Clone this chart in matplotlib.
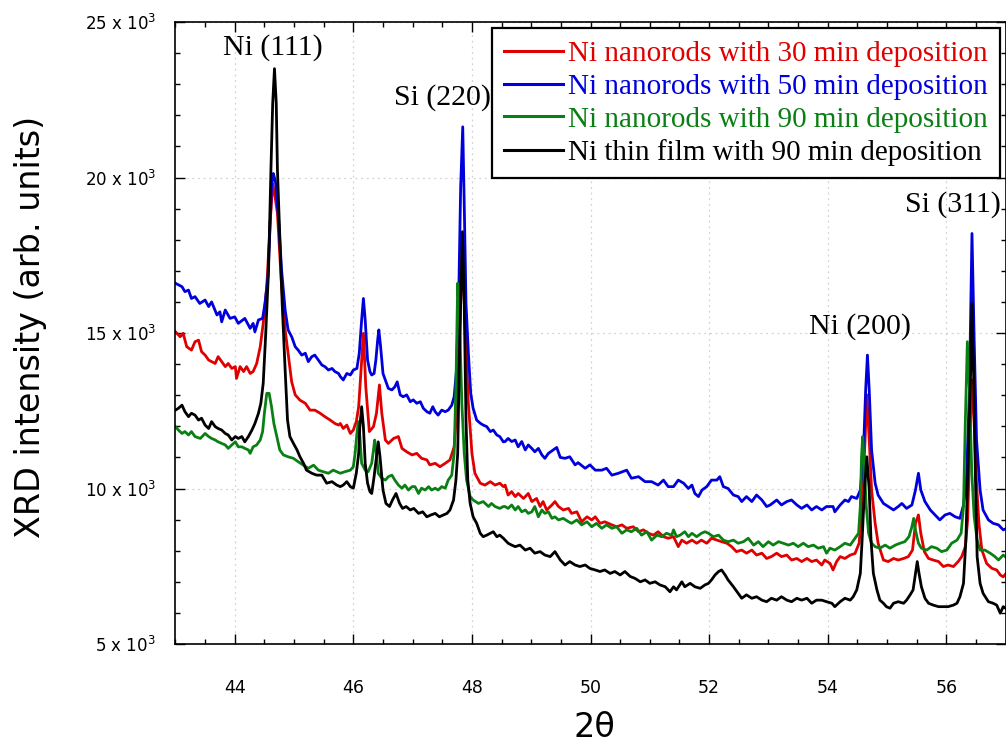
import matplotlib
matplotlib.use("Agg")
import matplotlib.pyplot as plt
from matplotlib.ticker import MultipleLocator, FuncFormatter

# ---- XRD scans (2theta in degrees, intensity in counts) ----
tth_30 = [43.00, 43.08, 43.13, 43.19, 43.27, 43.33, 43.39, 43.44, 43.50, 43.56, 43.61, 43.67, 43.72, 43.78, 43.84,
          43.89, 43.95, 44.01, 44.03, 44.09, 44.15, 44.20, 44.26, 44.31, 44.37, 44.43, 44.48, 44.54, 44.60, 44.64,
          44.68, 44.72, 44.79, 44.85, 44.90, 44.96, 45.02, 45.10, 45.19, 45.27, 45.35, 45.44, 45.52, 45.61, 45.69,
          45.75, 45.78, 45.83, 45.89, 45.95, 46.00, 46.05, 46.09, 46.13, 46.17, 46.21, 46.27, 46.34, 46.39, 46.44,
          46.48, 46.54, 46.59, 46.68, 46.76, 46.82, 46.90, 46.99, 47.07, 47.15, 47.24, 47.29, 47.38, 47.46, 47.55,
          47.63, 47.70, 47.75, 47.80, 47.84, 47.88, 47.94, 48.00, 48.05, 48.14, 48.22, 48.31, 48.39, 48.47, 48.53,
          48.56, 48.61, 48.67, 48.73, 48.78, 48.87, 48.95, 49.01, 49.09, 49.15, 49.20, 49.26, 49.35, 49.40, 49.46,
          49.54, 49.63, 49.68, 49.77, 49.85, 49.94, 50.02, 50.08, 50.16, 50.24, 50.36, 50.44, 50.53, 50.61, 50.72,
          50.81, 50.89, 50.98, 51.06, 51.14, 51.23, 51.31, 51.40, 51.48, 51.54, 51.62, 51.71, 51.79, 51.87, 51.96,
          52.04, 52.13, 52.21, 52.30, 52.38, 52.46, 52.55, 52.63, 52.72, 52.80, 52.89, 52.97, 53.05, 53.14, 53.22,
          53.31, 53.39, 53.48, 53.56, 53.65, 53.73, 53.81, 53.90, 53.95, 54.04, 54.09, 54.15, 54.21, 54.29, 54.38,
          54.46, 54.53, 54.58, 54.63, 54.66, 54.70, 54.74, 54.80, 54.85, 54.94, 55.02, 55.11, 55.19, 55.28, 55.36,
          55.43, 55.48, 55.53, 55.57, 55.63, 55.70, 55.78, 55.87, 55.95, 56.03, 56.12, 56.20, 56.26, 56.32, 56.36,
          56.39, 56.43, 56.47, 56.51, 56.55, 56.60, 56.68, 56.77, 56.85, 56.91, 56.96, 57.00]
int_30 = [15040, 14880, 14990, 14560, 14450, 14720, 14770, 14400, 14290, 14130, 14080, 14020, 14240, 14080, 13920,
          14020, 13860, 13920, 13540, 13920, 13760, 13920, 13700, 13760, 14020, 14560, 15310, 16490, 18630, 19800,
          19380, 18850, 16490, 15100, 14350, 13430, 13010, 12840, 12740, 12520, 12520, 12420, 12310, 12200, 12090,
          12040, 12090, 11930, 12040, 11770, 11880, 12150, 12630, 13810, 14990, 13270, 11830, 11990, 12420, 13330,
          12420, 11560, 11450, 11610, 11670, 11290, 11180, 11080, 11130, 10970, 10920, 10760, 10810, 10700, 10810,
          10920, 11340, 12630, 15420, 18000, 15420, 12740, 11130, 10490, 10170, 10110, 10220, 10110, 10170, 10060,
          10110, 9790, 9900, 9740, 9840, 9680, 9840, 9580, 9680, 9420, 9580, 9310, 9470, 9580, 9420,
          9310, 9360, 9200, 9250, 8930, 9090, 8990, 9090, 8880, 8930, 8830, 8770, 8830, 8720, 8770,
          8610, 8670, 8560, 8500, 8610, 8450, 8400, 8450, 8130, 8340, 8240, 8340, 8240, 8340, 8240,
          8400, 8340, 8290, 8240, 8130, 7970, 8020, 7920, 8020, 7860, 7920, 7750, 7810, 7920, 7810,
          7860, 7700, 7750, 7650, 7750, 7650, 7700, 7540, 7700, 7590, 7380, 7650, 7810, 7750, 7860,
          7910, 8240, 9420, 11560, 13010, 11560, 9950, 8880, 8240, 7700, 7650, 7750, 7700, 7750, 7810,
          8020, 8880, 9150, 8560, 7970, 7750, 7700, 7650, 7490, 7540, 7490, 7650, 7810, 8130, 8990,
          11020, 13500, 12090, 10170, 8880, 8020, 7590, 7430, 7380, 7220, 7160, 7250]

tth_50 = [43.00, 43.11, 43.16, 43.22, 43.27, 43.33, 43.41, 43.50, 43.56, 43.61, 43.70, 43.75, 43.78, 43.84, 43.92,
          44.00, 44.06, 44.17, 44.26, 44.31, 44.34, 44.40, 44.47, 44.51, 44.56, 44.60, 44.62, 44.65, 44.68, 44.69,
          44.74, 44.79, 44.85, 44.90, 44.96, 45.02, 45.07, 45.13, 45.19, 45.24, 45.30, 45.35, 45.41, 45.47, 45.52,
          45.58, 45.64, 45.69, 45.75, 45.78, 45.83, 45.89, 45.95, 46.00, 46.06, 46.10, 46.14, 46.17, 46.20, 46.24,
          46.28, 46.31, 46.35, 46.38, 46.41, 46.43, 46.46, 46.50, 46.54, 46.59, 46.65, 46.70, 46.74, 46.79, 46.84,
          46.90, 46.96, 47.01, 47.07, 47.13, 47.18, 47.24, 47.29, 47.34, 47.38, 47.43, 47.49, 47.55, 47.60, 47.66,
          47.70, 47.74, 47.78, 47.81, 47.845, 47.87, 47.90, 47.94, 47.98, 48.02, 48.08, 48.14, 48.19, 48.25, 48.31,
          48.36, 48.42, 48.47, 48.53, 48.56, 48.61, 48.67, 48.73, 48.78, 48.84, 48.90, 48.95, 49.01, 49.06, 49.12,
          49.18, 49.23, 49.29, 49.43, 49.49, 49.57, 49.65, 49.74, 49.79, 49.91, 49.99, 50.08, 50.19, 50.27, 50.36,
          50.47, 50.61, 50.69, 50.81, 50.92, 51.03, 51.14, 51.23, 51.31, 51.40, 51.48, 51.57, 51.65, 51.71, 51.76,
          51.82, 51.88, 51.96, 52.04, 52.13, 52.18, 52.24, 52.32, 52.41, 52.49, 52.55, 52.63, 52.72, 52.80, 52.89,
          52.97, 53.03, 53.14, 53.22, 53.31, 53.39, 53.48, 53.56, 53.65, 53.73, 53.81, 53.90, 53.98, 54.09, 54.12,
          54.21, 54.29, 54.35, 54.40, 54.49, 54.55, 54.60, 54.64, 54.67, 54.70, 54.74, 54.80, 54.85, 54.94, 55.02,
          55.11, 55.19, 55.25, 55.33, 55.42, 55.48, 55.53, 55.57, 55.64, 55.73, 55.81, 55.89, 55.98, 56.06, 56.15,
          56.23, 56.29, 56.34, 56.39, 56.433, 56.47, 56.51, 56.57, 56.62, 56.71, 56.79, 56.88, 56.96, 57.00]
int_50 = [16600, 16490, 16330, 16380, 16110, 16170, 15950, 16060, 15850, 16000, 15580, 15680, 15360, 15740, 15470,
          15520, 15310, 15470, 15150, 15310, 15040, 15420, 15470, 15950, 16810, 18630, 19700, 20130, 19920, 19810,
          18630, 17020, 15740, 15100, 14880, 14560, 14450, 14290, 14350, 14080, 14240, 14290, 14130, 13970, 13920,
          13810, 13860, 13760, 13700, 13600, 13490, 13700, 13650, 13810, 13860, 14350, 15420, 16110, 15420, 14130,
          13760, 13650, 13700, 14130, 14770, 15100, 14560, 13700, 13490, 13220, 13170, 13270, 13430, 13010, 12950,
          13010, 12790, 12850, 12740, 12790, 12580, 12470, 12420, 12630, 12470, 12360, 12520, 12470, 12520, 12680,
          12950, 13810, 16490, 19700, 21630, 19170, 15950, 14350, 13060, 12580, 12200, 12100, 12040, 11990, 11830,
          11880, 11720, 11670, 11500, 11510, 11610, 11510, 11560, 11340, 11510, 11240, 11400, 11290, 11180, 11290,
          11080, 10970, 11130, 11320, 11000, 10970, 11020, 10760, 10830, 10650, 10760, 10590, 10590, 10650, 10430,
          10490, 10590, 10330, 10380, 10220, 10220, 10110, 10270, 10060, 10060, 10270, 10170, 10000, 10110, 9840,
          9740, 9950, 10060, 10270, 10270, 10380, 10060, 10000, 9790, 9740, 9580, 9740, 9580, 9790, 9630,
          9420, 9470, 9630, 9470, 9580, 9630, 9470, 9360, 9470, 9310, 9420, 9310, 9420, 9420, 9250,
          9470, 9630, 9580, 9740, 9680, 9950, 11020, 13170, 14290, 13170, 11240, 10170, 9790, 9520, 9420,
          9310, 9420, 9520, 9360, 9470, 9950, 10490, 9950, 9580, 9310, 9150, 8990, 9150, 9200, 9090,
          9040, 9470, 10270, 13170, 18200, 14770, 11560, 9950, 9310, 8990, 8880, 8830, 8670, 8700]

tth_90 = [43.00, 43.05, 43.11, 43.16, 43.22, 43.27, 43.33, 43.42, 43.50, 43.56, 43.61, 43.67, 43.72, 43.78, 43.84,
          43.89, 43.95, 44.01, 44.06, 44.12, 44.17, 44.23, 44.26, 44.31, 44.37, 44.43, 44.47, 44.50, 44.54, 44.58,
          44.62, 44.66, 44.71, 44.76, 44.82, 44.90, 44.99, 45.07, 45.16, 45.24, 45.33, 45.41, 45.49, 45.58, 45.66,
          45.78, 45.86, 45.95, 46.00, 46.03, 46.06, 46.085, 46.11, 46.14, 46.20, 46.25, 46.31, 46.34, 46.36, 46.39,
          46.42, 46.48, 46.54, 46.59, 46.65, 46.70, 46.76, 46.82, 46.87, 46.93, 46.99, 47.04, 47.10, 47.15, 47.21,
          47.27, 47.32, 47.38, 47.43, 47.49, 47.55, 47.60, 47.66, 47.70, 47.73, 47.76, 47.79, 47.83, 47.87, 47.91,
          47.97, 48.02, 48.11, 48.19, 48.28, 48.33, 48.39, 48.47, 48.53, 48.56, 48.61, 48.67, 48.73, 48.78, 48.84,
          48.90, 48.95, 49.01, 49.06, 49.12, 49.18, 49.23, 49.29, 49.35, 49.40, 49.46, 49.54, 49.63, 49.68, 49.77,
          49.85, 49.94, 50.02, 50.10, 50.19, 50.27, 50.36, 50.44, 50.53, 50.61, 50.69, 50.78, 50.86, 50.95, 51.03,
          51.12, 51.20, 51.28, 51.37, 51.40, 51.45, 51.51, 51.59, 51.65, 51.71, 51.79, 51.87, 51.93, 51.99, 52.07,
          52.16, 52.24, 52.32, 52.41, 52.49, 52.58, 52.66, 52.75, 52.83, 52.91, 53.00, 53.08, 53.17, 53.25, 53.34,
          53.42, 53.50, 53.59, 53.67, 53.76, 53.84, 53.93, 53.98, 54.04, 54.12, 54.21, 54.29, 54.38, 54.46, 54.52,
          54.55, 54.57, 54.59, 54.61, 54.65, 54.69, 54.74, 54.80, 54.88, 54.97, 55.05, 55.14, 55.22, 55.30, 55.37,
          55.42, 55.45, 55.48, 55.53, 55.58, 55.67, 55.75, 55.84, 55.92, 56.01, 56.09, 56.18, 56.25, 56.29, 56.32,
          56.355, 56.39, 56.43, 56.47, 56.52, 56.57, 56.65, 56.74, 56.82, 56.88, 56.96, 57.00]
int_90 = [11990, 11880, 11770, 11830, 11720, 11830, 11670, 11610, 11770, 11670, 11610, 11560, 11500, 11450, 11400,
          11290, 11400, 11500, 11340, 11340, 11290, 11240, 11130, 11340, 11400, 11560, 11830, 12420, 13060, 13060,
          12630, 12090, 11670, 11240, 11080, 11020, 10970, 10860, 10750, 10650, 10750, 10590, 10540, 10490, 10590,
          10490, 10540, 10590, 10700, 11130, 11770, 12150, 11670, 10810, 10590, 10540, 10810, 11240, 11560, 11130,
          10490, 10330, 10270, 10380, 10430, 10270, 10110, 10010, 10110, 9950, 10060, 10060, 9840, 10010, 9950,
          10060, 9950, 10010, 9950, 10060, 10010, 10270, 10430, 11130, 13270, 16600, 15420, 12740, 11130, 10270,
          9740, 9630, 9520, 9580, 9420, 9520, 9420, 9360, 9420, 9420, 9360, 9470, 9310, 9420, 9250,
          9310, 9200, 9250, 9420, 9090, 9310, 9200, 9250, 9040, 9090, 8990, 9040, 8930, 8880, 8990,
          8830, 8930, 8770, 8880, 8720, 8830, 8720, 8770, 8560, 8670, 8610, 8720, 8500, 8610, 8340,
          8500, 8450, 8560, 8500, 8670, 8450, 8500, 8610, 8450, 8560, 8450, 8560, 8610, 8560, 8450,
          8500, 8340, 8290, 8340, 8240, 8290, 8400, 8180, 8290, 8130, 8290, 8180, 8290, 8240, 8180,
          8240, 8130, 8240, 8130, 8180, 8080, 8130, 7920, 8080, 8020, 8130, 8240, 8180, 8400, 8560,
          9420, 11020, 11670, 11020, 9420, 8560, 8240, 8130, 8080, 8180, 8080, 8180, 8240, 8290, 8450,
          8770, 9040, 8660, 8240, 8080, 8020, 8130, 8080, 7970, 8020, 8240, 8340, 8560, 9420, 12090,
          14720, 13170, 10490, 9090, 8340, 8020, 8020, 7920, 7810, 7700, 7860, 7800]

tth_film = [43.00, 43.05, 43.11, 43.16, 43.22, 43.27, 43.33, 43.39, 43.44, 43.50, 43.56, 43.61, 43.67, 43.72, 43.78,
            43.84, 43.89, 43.95, 44.01, 44.06, 44.12, 44.17, 44.23, 44.29, 44.34, 44.40, 44.44, 44.48, 44.52, 44.57,
            44.61, 44.64, 44.67, 44.70, 44.72, 44.76, 44.80, 44.85, 44.89, 44.93, 44.99, 45.05, 45.10, 45.16, 45.21,
            45.30, 45.38, 45.47, 45.55, 45.64, 45.72, 45.78, 45.83, 45.89, 45.95, 46.00, 46.05, 46.09, 46.11, 46.14,
            46.17, 46.20, 46.24, 46.28, 46.31, 46.35, 46.39, 46.42, 46.45, 46.50, 46.55, 46.61, 46.66, 46.72, 46.78,
            46.83, 46.89, 46.96, 47.02, 47.10, 47.17, 47.24, 47.31, 47.38, 47.45, 47.52, 47.58, 47.63, 47.69, 47.73,
            47.76, 47.78, 47.81, 47.84, 47.87, 47.90, 47.93, 47.97, 48.02, 48.08, 48.14, 48.19, 48.25, 48.31, 48.36,
            48.42, 48.47, 48.53, 48.56, 48.61, 48.67, 48.73, 48.81, 48.90, 48.98, 49.06, 49.15, 49.23, 49.32, 49.40,
            49.49, 49.57, 49.65, 49.74, 49.82, 49.91, 49.99, 50.08, 50.16, 50.24, 50.33, 50.41, 50.50, 50.58, 50.67,
            50.75, 50.84, 50.92, 51.00, 51.09, 51.17, 51.26, 51.34, 51.40, 51.45, 51.54, 51.59, 51.68, 51.76, 51.85,
            51.93, 51.99, 52.04, 52.10, 52.16, 52.21, 52.27, 52.32, 52.41, 52.49, 52.55, 52.63, 52.72, 52.80, 52.89,
            52.97, 53.05, 53.14, 53.22, 53.31, 53.39, 53.48, 53.56, 53.65, 53.73, 53.81, 53.90, 53.98, 54.07, 54.12,
            54.21, 54.29, 54.38, 54.43, 54.49, 54.55, 54.58, 54.62, 54.66, 54.70, 54.73, 54.77, 54.83, 54.88, 54.94,
            54.99, 55.05, 55.11, 55.19, 55.28, 55.33, 55.39, 55.44, 55.48, 55.51, 55.54, 55.58, 55.64, 55.70, 55.78,
            55.87, 55.95, 56.03, 56.12, 56.18, 56.23, 56.29, 56.33, 56.37, 56.41, 56.433, 56.46, 56.49, 56.52, 56.57,
            56.62, 56.71, 56.79, 56.85, 56.91, 56.96, 57.00]
int_film = [12520, 12580, 12680, 12470, 12310, 12420, 12360, 12200, 12260, 12040, 11930, 12150, 11990, 11930, 11880,
            11770, 11720, 11560, 11670, 11610, 11670, 11500, 11670, 11880, 12090, 12420, 12740, 13380, 14880, 17020,
            20240, 22380, 23500, 22380, 20240, 18100, 15950, 13810, 12200, 11670, 11450, 11240, 11020, 10810, 10590,
            10490, 10430, 10430, 10170, 10220, 10110, 10060, 10110, 10220, 10060, 10010, 10490, 11130, 11990, 12630,
            11990, 10810, 10170, 9900, 9840, 10380, 11020, 11500, 11020, 9950, 9520, 9420, 9630, 9840, 9520,
            9360, 9420, 9310, 9360, 9200, 9250, 9090, 9150, 9200, 9090, 9150, 9200, 9310, 9630, 10270,
            11130, 13270, 15950, 18260, 15950, 12200, 10270, 9520, 9090, 8880, 8560, 8450, 8500, 8560, 8610,
            8450, 8500, 8400, 8340, 8240, 8180, 8130, 8180, 8020, 8080, 7920, 7970, 7860, 7810, 7970,
            7700, 7540, 7650, 7540, 7490, 7540, 7430, 7380, 7330, 7380, 7270, 7330, 7220, 7330, 7170,
            7110, 7000, 7060, 6950, 7000, 6900, 6840, 6680, 6840, 6740, 7000, 6840, 6950, 6840, 6790,
            6900, 6950, 7060, 7220, 7330, 7380, 7220, 7060, 6840, 6630, 6470, 6580, 6470, 6520, 6410,
            6360, 6470, 6410, 6520, 6410, 6360, 6470, 6410, 6470, 6310, 6410, 6410, 6360, 6310, 6200,
            6360, 6470, 6410, 6520, 6740, 7270, 8340, 9950, 11020, 9950, 8340, 7270, 6740, 6410, 6310,
            6200, 6150, 6310, 6360, 6310, 6410, 6580, 6740, 7270, 7650, 7270, 6840, 6470, 6310, 6250,
            6200, 6200, 6200, 6250, 6310, 6520, 6950, 8340, 11020, 13700, 15950, 13700, 10490, 7810, 6950,
            6630, 6360, 6310, 6250, 5990, 6200, 6150]

series_labels = ["Ni nanorods with 30 min deposition",
                 "Ni nanorods with 50 min deposition",
                 "Ni nanorods with 90 min deposition",
                 "Ni thin film with 90 min deposition"]
series_colors = ["#e00000", "#0000dc", "#0a8014", "#000000"]

# reflection labels: text, 2theta, intensity
peak_names = ["Ni (111)", "Si (220)", "Ni (200)", "Si (311)"]
peak_tth = [44.65, 47.51, 54.54, 56.11]
peak_int = [24190, 22570, 15220, 19130]

x_ticks = [44, 46, 48, 50, 52, 54, 56]
y_ticks = [5000, 10000, 15000, 20000, 25000]

fig = plt.figure(figsize=(10.06, 7.47), dpi=100)
ax = fig.add_axes([0.1744, 0.1379, 0.8252, 0.8326])

serif = ["Liberation Serif", "DejaVu Serif"]

data = [(tth_30, int_30), (tth_50, int_50), (tth_90, int_90), (tth_film, int_film)]
for (tx, iy), lab, col in zip(data, series_labels, series_colors):
    ax.plot(tx, iy, color=col, lw=2.0, label=lab, solid_joinstyle="round")

ax.set_xlim(43, 57)
ax.set_ylim(5000, 25000)
ax.set_xticks(x_ticks)
ax.set_yticks(y_ticks)
ax.xaxis.set_minor_locator(MultipleLocator(0.5))
ax.yaxis.set_minor_locator(MultipleLocator(1000))
ax.yaxis.set_major_formatter(FuncFormatter(lambda v, p: f"{int(round(v / 1000))} x 10$^3$"))

ax.tick_params(which="both", direction="in", top=True, right=True, width=1.0, color="black")
ax.tick_params(which="major", length=7)
ax.tick_params(which="minor", length=3.5)
ax.tick_params(axis="x", which="major", pad=25, labelsize=12.5)
ax.tick_params(axis="y", which="major", pad=14, labelsize=12)
for s in ax.spines.values():
    s.set_linewidth(1.2)

ax.set_axisbelow(True)
ax.grid(True, which="major", linestyle=(0, (1.5, 3)), color="#d2d2d2", linewidth=0.9)

ax.set_xlabel("2θ", fontsize=24)
ax.xaxis.set_label_coords(0.505, -0.135)
ax.xaxis.label.set_va("center")
ax.set_ylabel("XRD intensity (arb. units)", fontsize=24)
ax.yaxis.set_label_coords(-0.175, 0.51)
ax.yaxis.label.set_va("center")

for name, px, py in zip(peak_names, peak_tth, peak_int):
    ax.text(px, py, name, ha="center", va="center", fontsize=21.5, family=serif, color="black")

leg = ax.legend(loc="upper right", bbox_to_anchor=(0.993, 0.990), borderaxespad=0,
                prop={"family": serif, "size": 21}, handlelength=2.0, handletextpad=0.18,
                labelspacing=0.22, borderpad=0.42, fancybox=False, framealpha=1, edgecolor="black")
leg.get_frame().set_linewidth(1.6)
for txt, col in zip(leg.get_texts(), series_colors):
    txt.set_color(col)
for ln in leg.get_lines():
    ln.set_linewidth(2.2)

fig.savefig("out.png", dpi=100)
